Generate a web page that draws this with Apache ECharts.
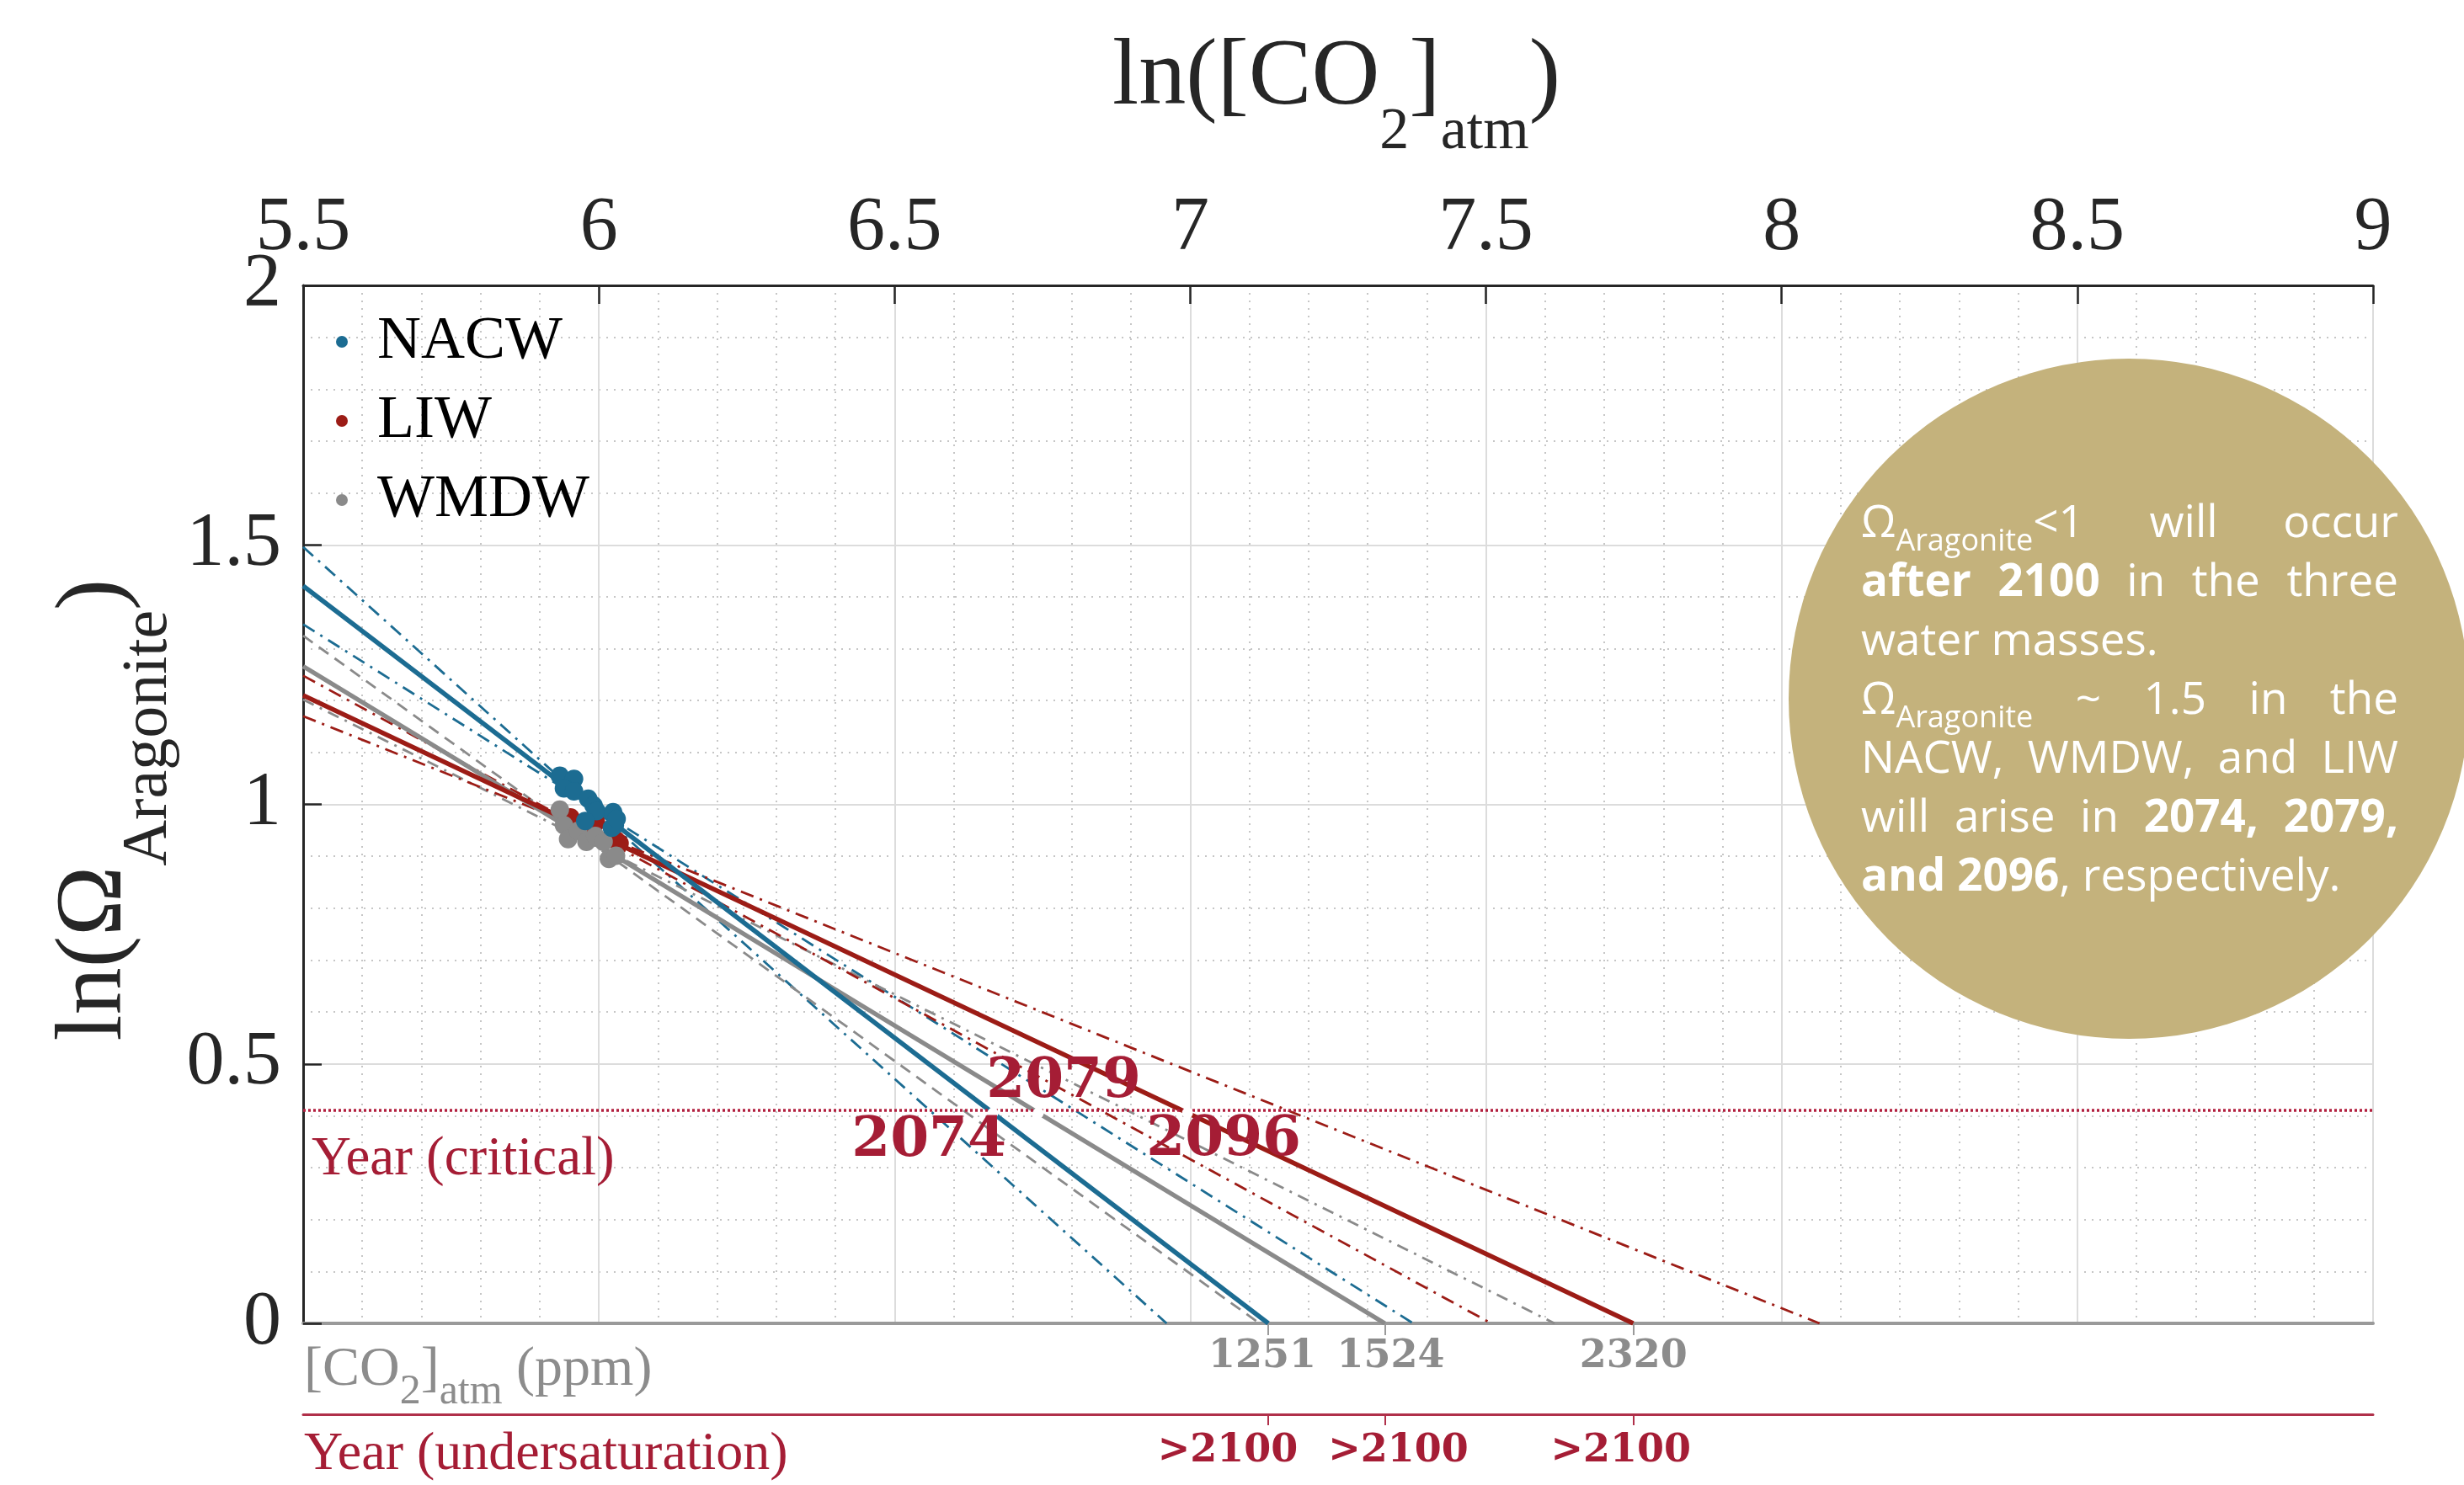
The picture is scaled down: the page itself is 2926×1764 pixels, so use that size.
<!DOCTYPE html>
<html><head><meta charset="utf-8">
<script src="https://cdn.jsdelivr.net/npm/echarts@6/dist/echarts.min.js"></script>
<style>html,body{margin:0;padding:0;background:#fff}#c{width:2926px;height:1764px}</style>
</head><body><div id="c"></div>
<script>
// ---------------- data ----------------
const seriesNames = ['NACW', 'LIW', 'WMDW'];
// scatter observations: [ln(CO2 atm), ln(Omega aragonite)]
const nacwPoints = [[5.934,1.055],[5.958,1.049],[5.941,1.031],[5.958,1.025],[5.982,1.011],[5.991,0.998],[5.996,0.987],[5.977,0.968],[6.024,0.985],[6.027,0.960],[6.022,0.955],[6.030,0.972]];
const liwPoints  = [[5.952,0.975],[5.975,0.962],[5.995,0.965],[6.022,0.938],[6.029,0.931],[6.035,0.925]];
const wmdwPoints = [[5.934,0.990],[5.941,0.960],[5.948,0.933],[5.965,0.949],[5.979,0.928],[5.994,0.939],[6.008,0.928],[6.017,0.895],[6.029,0.901]];
// regression lines (fit) and their bounds: two end points each
const nacwFit   = [[5.5, 1.421], [7.132, 0]];
const nacwBand1 = [[5.5, 1.496], [6.960, 0]];
const nacwBand2 = [[5.5, 1.347], [7.377, 0]];
const wmdwFit   = [[5.5, 1.266], [7.329, 0]];
const wmdwBand1 = [[5.5, 1.325], [7.117, 0]];
const wmdwBand2 = [[5.5, 1.202], [7.616, 0]];
const liwFit    = [[5.5, 1.210], [7.749, 0]];
const liwBand1  = [[5.5, 1.248], [7.509, 0]];
const liwBand2  = [[5.5, 1.170], [8.064, 0]];
// annotations
const criticalOmega = 1.5;
const criticalYears = [2074, 2079, 2096];      // NACW, WMDW, LIW
const ppmTicks = [1251, 1524, 2320];            // CO2 (ppm) at ln(Omega)=0
const undersatYears = ['>2100', '>2100', '>2100'];
const xTicks = { min: 5.5, max: 9, interval: 0.5 };
const yTicks = { min: 0, max: 2, interval: 0.5 };

// ---------------- styles ----------------
const C = { blue: '#1C6C92', red: '#9C1C16', gray: '#8A8A8A', text: '#262626', crimson: '#A51D35', gold: '#C4B27C' };
const SERIF = '"Liberation Serif", "DejaVu Serif", serif';
const BSERIF = '"DejaVu Serif", "Liberation Serif", serif';

const critY = Math.log(criticalOmega);
function crossX(line, y) {
  const [p, q] = line;
  return p[0] + (y - p[1]) * (q[0] - p[0]) / (q[1] - p[1]);
}
const ppmPos = ppmTicks.map(v => Math.log(v));
function nearestIdx(v) {
  let i = 0, best = 1e9;
  ppmPos.forEach((p, j) => { if (Math.abs(p - v) < best) { best = Math.abs(p - v); i = j; } });
  return i;
}

function lineSeries(name, data, color, width, type, extra) {
  return Object.assign({
    name, type: 'line', data, showSymbol: false, silent: true, z: 3,
    lineStyle: { color, width, type },
    emphasis: { disabled: true }
  }, extra || {});
}
function yearPoint(fit, year, color, offset) {
  return {
    symbol: 'emptyCircle', symbolSize: 11, silent: true,
    itemStyle: { color: '#fff', borderColor: color, borderWidth: 2 },
    label: { show: true, position: 'inside', offset, formatter: String(year),
      fontFamily: BSERIF, fontWeight: 'bold', fontSize: 66, color: C.crimson },
    data: [{ coord: [crossX(fit, critY), critY] }]
  };
}
const dd = [16, 8, 3, 8];
const BW = 2.8, FW = 5.5;

const series = [
  lineSeries('nb1', nacwBand1, C.blue, BW, dd),
  lineSeries('nb2', nacwBand2, C.blue, BW, dd),
  lineSeries('wb1', wmdwBand1, C.gray, BW, [14, 9]),
  lineSeries('wb2', wmdwBand2, C.gray, BW, [14, 8, 3, 8]),
  lineSeries('lb1', liwBand1, C.red, BW, dd),
  lineSeries('lb2', liwBand2, C.red, BW, dd),
  lineSeries('wfit', wmdwFit, C.gray, FW, 'solid', { markPoint: yearPoint(wmdwFit, criticalYears[1], C.gray, [30, -36]) }),
  lineSeries('lfit', liwFit, C.red, FW, 'solid', { markPoint: yearPoint(liwFit, criticalYears[2], C.red, [43, 33]) }),
  lineSeries('nfit', nacwFit, C.blue, FW, 'solid', {
    markPoint: yearPoint(nacwFit, criticalYears[0], C.blue, [-76, 34]),
    markLine: {
      silent: true, symbol: 'none', animation: false,
      lineStyle: { color: '#B2203F', type: [3, 3], width: 3.5 },
      label: { show: true, position: 'insideStartBottom', formatter: 'Year (critical)',
        fontFamily: SERIF, fontSize: 65, color: C.crimson, distance: [10, 26] },
      data: [{ yAxis: critY }]
    }
  }),
  { name: 'LIW', type: 'scatter', data: liwPoints, symbolSize: 22, itemStyle: { color: C.red, opacity: 1 }, z: 5 },
  { name: 'WMDW', type: 'scatter', data: wmdwPoints, symbolSize: 22, itemStyle: { color: C.gray, opacity: 1 }, z: 5 },
  { name: 'NACW', type: 'scatter', data: nacwPoints, symbolSize: 22, itemStyle: { color: C.blue, opacity: 1 }, z: 5 }
];

const gridLines = {
  splitLine: { show: true, lineStyle: { color: '#dcdcdc', width: 2 } },
  minorTick: { show: false, splitNumber: 5 },
  minorSplitLine: { show: true, lineStyle: { color: '#c6c6c6', width: 2, type: [2, 7] } }
};

// ---------------- circle text (justified) ----------------
const cv = document.createElement('canvas').getContext('2d');
const TXT = { size: 53, sub: 36, subDrop: 14, family: '"Open Sans", "Noto Sans", sans-serif', k: 0.38 };
function fontSpec(st) { return { size: st === 's' ? TXT.sub : TXT.size, weight: st === 'b' ? 'bold' : 'normal' }; }
function mw(t, st) { const f = fontSpec(st); cv.font = f.weight + ' ' + f.size + 'px ' + TXT.family; return cv.measureText(t).width; }
const circleLines = [
  { just: true, words: [[['Ω','n'],['Aragonite','s'],['<1','n']], [['will','n']], [['occur','n']]] },
  { just: true, words: [[['after','b']], [['2100','b']], [['in','n']], [['the','n']], [['three','n']]] },
  { just: false, words: [[['water','n']], [['masses.','n']]] },
  { just: true, words: [[['Ω','n'],['Aragonite','s']], [['~','n']], [['1.5','n']], [['in','n']], [['the','n']]] },
  { just: true, words: [[['NACW,','n']], [['WMDW,','n']], [['and','n']], [['LIW','n']]] },
  { just: true, words: [[['will','n']], [['arise','n']], [['in','n']], [['2074,','b']], [['2079,','b']]] },
  { just: false, words: [[['and','b']], [['2096','b'],[',','n']], [['respectively.','n']]] }
];
const box = { left: 2210, right: 2848, top: 643, step: 70 };
const circleEls = [];
circleLines.forEach((ln, i) => {
  const base = box.top + i * box.step;
  const widths = ln.words.map(w => w.reduce((s, seg) => s + mw(seg[0], seg[1]), 0));
  const total = widths.reduce((a, b) => a + b, 0);
  const gap = ln.just ? (box.right - box.left - total) / (ln.words.length - 1) : mw(' ', 'n');
  let x = box.left;
  ln.words.forEach((w, wi) => {
    let xx = x;
    w.forEach(seg => {
      const f = fontSpec(seg[1]);
      const b = base + (seg[1] === 's' ? TXT.subDrop : 0);
      circleEls.push({ type: 'text', x: xx, y: b - TXT.k * f.size, z: 101, silent: true,
        style: { text: seg[0], fill: '#fff', fontFamily: TXT.family, fontSize: f.size, fontWeight: f.weight,
          align: 'left', verticalAlign: 'middle' } });
      xx += mw(seg[0], seg[1]);
    });
    x += widths[wi] + gap;
  });
});

// per-label horizontal shifts (padding) so neighbouring labels do not collide, as in the original
const ppmRich = {
  p0: { padding: [0, 14, 0, 0] }, p1: { padding: [0, 0, 0, 14] }, p2: { padding: [0, 0, 0, 0] }
};
const yrRich = {
  p0: { padding: [0, 96, 0, 0] }, p1: { padding: [0, 0, 0, 32] }, p2: { padding: [0, 30, 0, 0] }
};
function richWith(base, font) {
  const o = {};
  Object.keys(base).forEach(k => { o[k] = Object.assign({}, font, base[k]); });
  return o;
}
const ppmFont = { fontFamily: BSERIF, fontWeight: 'bold', fontSize: 46, color: '#8c8c8c' };
const yrFont = { fontFamily: BSERIF, fontWeight: 'bold', fontSize: 46, color: C.crimson };

const option = {
  animation: false,
  backgroundColor: '#fff',
  grid: { left: 360, top: 339, width: 2458, height: 1233, outerBoundsMode: 'none' },
  legend: {
    data: seriesNames, orient: 'vertical', left: 394, top: 365, icon: 'circle',
    itemWidth: 14, itemHeight: 14, itemGap: 22, selectedMode: false,
    textStyle: { fontFamily: SERIF, fontSize: 72, lineHeight: 72, color: '#000', padding: [0, 0, 0, 30] }
  },
  xAxis: [
    Object.assign({
      type: 'value', position: 'top', min: xTicks.min, max: xTicks.max, interval: xTicks.interval,
      axisLine: { show: true, onZero: false, lineStyle: { color: C.text, width: 3 } },
      axisTick: { show: true, inside: true, length: 22, lineStyle: { color: C.text, width: 2.5 } },
      axisLabel: { fontFamily: SERIF, fontSize: 90, color: C.text, margin: 22 }
    }, gridLines),
    {
      type: 'value', position: 'bottom', min: xTicks.min, max: xTicks.max,
      axisLine: { show: true, onZero: false, lineStyle: { color: '#9a9a9a', width: 4 } },
      axisTick: { show: true, customValues: ppmPos, length: 14, lineStyle: { color: '#9a9a9a', width: 2 } },
      axisLabel: Object.assign({ customValues: ppmPos, hideOverlap: false, margin: 17,
        formatter: v => { const i = nearestIdx(v); return '{p' + i + '|' + ppmTicks[i] + '}'; },
        rich: richWith(ppmRich, ppmFont) }, ppmFont),
      splitLine: { show: false }
    },
    {
      type: 'value', position: 'bottom', offset: 108, min: xTicks.min, max: xTicks.max,
      axisLine: { show: true, onZero: false, lineStyle: { color: '#B0304A', width: 3 } },
      axisTick: { show: true, customValues: ppmPos, length: 13, lineStyle: { color: '#B0304A', width: 2 } },
      axisLabel: Object.assign({ customValues: ppmPos, hideOverlap: false, margin: 21,
        formatter: v => { const i = nearestIdx(v); return '{p' + i + '|' + undersatYears[i] + '}'; },
        rich: richWith(yrRich, yrFont) }, yrFont),
      splitLine: { show: false }
    }
  ],
  yAxis: Object.assign({
    type: 'value', min: yTicks.min, max: yTicks.max, interval: yTicks.interval,
    axisLine: { show: true, onZero: false, lineStyle: { color: C.text, width: 3 } },
    axisTick: { show: true, inside: true, length: 22, lineStyle: { color: C.text, width: 2.5 } },
    axisLabel: { fontFamily: SERIF, fontSize: 90, color: C.text, margin: 26 }
  }, gridLines),
  series,
  graphic: [
    { type: 'circle', shape: { cx: 2528, cy: 830, r: 404 }, style: { fill: C.gold }, z: 100, silent: true },
    ...circleEls,
    { type: 'text', x: 1587, y: 94, z: 50, silent: true,
      style: { text: '{m|ln([CO}{s|2}{m|]}{s|atm}{m|)}', align: 'center', verticalAlign: 'middle', fill: C.text,
        rich: { m: { fontFamily: SERIF, fontSize: 112, lineHeight: 112, fill: C.text },
                s: { fontFamily: SERIF, fontSize: 70, lineHeight: 70, padding: [128, 0, 0, 0], fill: C.text } } } },
    { type: 'text', x: 114, y: 962, rotation: Math.PI / 2, z: 50, silent: true,
      style: { text: '{m|ln(Ω}{s|Aragonite}{m|)}', align: 'center', verticalAlign: 'middle', fill: C.text,
        rich: { m: { fontFamily: SERIF, fontSize: 112, lineHeight: 112, fill: C.text },
                s: { fontFamily: SERIF, fontSize: 76, lineHeight: 76, padding: [127, 0, 0, 0], fill: C.text } } } },
    { type: 'text', x: 361, y: 1628, z: 50, silent: true,
      style: { text: '{m|[CO}{s|2}{m|]}{s|atm}{m| (ppm)}', align: 'left', verticalAlign: 'middle', fill: '#8c8c8c',
        rich: { m: { fontFamily: SERIF, fontSize: 66, lineHeight: 66, fill: '#8c8c8c' },
                s: { fontFamily: SERIF, fontSize: 50, lineHeight: 50, padding: [51, 0, 0, 0], fill: '#8c8c8c' } } } },
    { type: 'text', x: 361, y: 1728, z: 50, silent: true,
      style: { text: 'Year (undersaturation)', align: 'left', verticalAlign: 'middle', fill: C.crimson,
        fontFamily: SERIF, fontSize: 64 } }
  ]
};
const chart = echarts.init(document.getElementById('c'), null, { renderer: 'canvas' });
chart.setOption(option);
</script></body></html>
